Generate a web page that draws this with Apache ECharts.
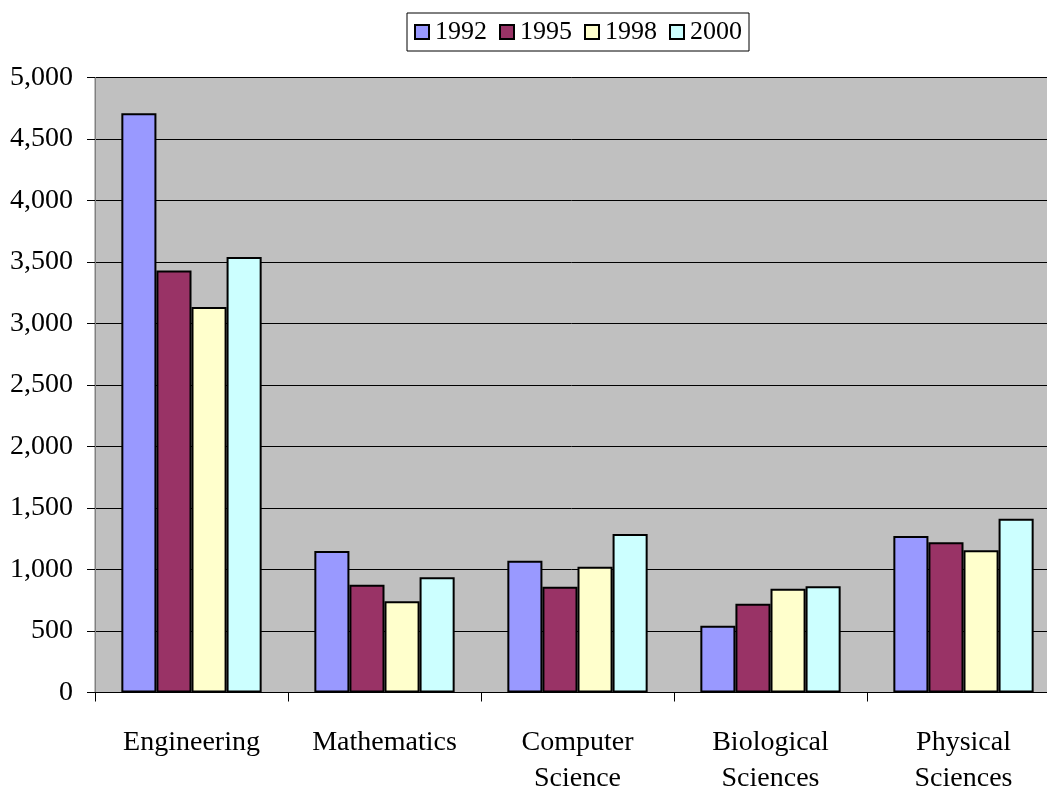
<!DOCTYPE html>
<html>
<head>
<meta charset="utf-8">
<script src="https://cdn.jsdelivr.net/npm/echarts@6/dist/echarts.min.js"></script>
<style>
  html, body { margin: 0; padding: 0; background: #fff; }
  #chart { width: 1047px; height: 793px; }
</style>
</head>
<body>
<div id="chart"></div>
<script>
// 数据：按年份的各学科数值
const categories = ['Engineering', 'Mathematics', 'Computer\nScience', 'Biological\nSciences', 'Physical\nSciences'];
const years = ['1992', '1995', '1998', '2000'];
const values1992 = [4710, 1150, 1072, 543, 1272];
const values1995 = [3430, 876, 860, 722, 1221];
const values1998 = [3135, 741, 1023, 844, 1156];
const values2000 = [3540, 936, 1289, 863, 1413];
const yTicks = [0, 500, 1000, 1500, 2000, 2500, 3000, 3500, 4000, 4500, 5000];

const palette = ['#9999FF', '#993366', '#FFFFCC', '#CCFFFF'];
const font = '"Liberation Serif", "Times New Roman", serif';

const chart = echarts.init(document.getElementById('chart'));

const series = [values1992, values1995, values1998, values2000].map((vals, i) => ({
  name: years[i],
  type: 'bar',
  data: vals,
  barGap: '0%',
  barCategoryGap: '27.3%',
  itemStyle: { color: palette[i], borderColor: '#000', borderWidth: 2 },
}));

chart.setOption({
  animation: false,
  backgroundColor: '#fff',
  color: palette,
  legend: {
    left: 407,
    top: 13,
    data: years,
    icon: 'rect',
    itemWidth: 14,
    itemHeight: 14,
    itemGap: 12,
    padding: [6, 7, 6, 7],
    borderColor: '#000',
    borderWidth: 1,
    itemStyle: { borderColor: '#000', borderWidth: 2 },
    textStyle: { fontFamily: font, fontSize: 26, color: '#000', padding: [0, 0, 0, 1] },
  },
  grid: {
    left: 95,
    top: 77.5,
    width: 965,
    height: 615,
    outerBoundsMode: 'none',
    containLabel: false,
    show: true,
    backgroundColor: '#C0C0C0',
    borderColor: '#808080',
    borderWidth: 1,
  },
  xAxis: {
    type: 'category',
    data: categories,
    axisLine: { lineStyle: { color: '#000', width: 1 } },
    axisTick: { show: true, length: 9, alignWithLabel: false, lineStyle: { color: '#000' } },
    axisLabel: {
      margin: 32,
      fontFamily: font,
      fontSize: 28,
      lineHeight: 36,
      color: '#000',
      interval: 0,
    },
  },
  yAxis: {
    type: 'value',
    min: yTicks[0],
    max: yTicks[yTicks.length - 1],
    interval: 500,
    axisLine: { show: true, lineStyle: { color: '#808080', width: 1 } },
    axisTick: { show: true, length: 8, lineStyle: { color: '#000' } },
    splitLine: { lineStyle: { color: '#000', width: 1 } },
    axisLabel: {
      margin: 22,
      fontFamily: font,
      fontSize: 28,
      color: '#000',
      formatter: v => v.toLocaleString('en-US'),
    },
  },
  series,
});
</script>
</body>
</html>
